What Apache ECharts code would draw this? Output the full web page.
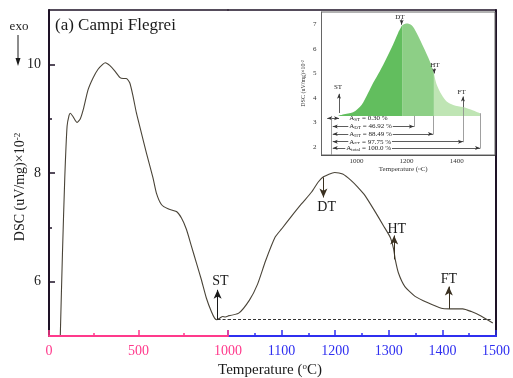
<!DOCTYPE html>
<html>
<head>
<meta charset="utf-8">
<script src="https://cdn.jsdelivr.net/npm/echarts@6/dist/echarts.min.js"></script>
<style>
  html, body { margin: 0; padding: 0; background: #fff; }
  #chart { width: 513px; height: 378px; }
</style>
</head>
<body>
<div id="chart"></div>
<script>
// ---- DSC trace, 0–1000 °C (compressed pink scale) ----
const lowTemp = [63, 75, 88, 101, 112, 119, 134, 157, 175, 194, 218, 246, 274, 300, 315, 339, 367, 395, 415, 432,
  451, 469, 488, 516, 544, 581, 600, 628, 665, 712, 740, 768, 796, 823, 851, 879, 907, 925, 938, 955, 970, 985, 1000];
const lowDsc = [5.0, 6.5, 7.9, 8.86, 9.06, 9.10, 9.04, 8.93, 9.0, 9.2, 9.53, 9.75, 9.91, 10.0, 10.03, 9.98, 9.88, 9.76, 9.74, 9.74,
  9.66, 9.42, 9.11, 8.74, 8.37, 7.91, 7.63, 7.42, 7.34, 7.29, 7.17, 6.96, 6.65, 6.35, 6.04, 5.70, 5.45, 5.33, 5.30, 5.33, 5.36, 5.35, 5.37];

// ---- DSC trace, 1000–1500 °C (expanded blue scale) ----
const highTemp = [1000, 1020, 1040, 1055, 1070, 1088, 1100, 1119, 1137, 1156, 1168, 1178, 1199, 1214, 1230, 1242, 1256,
  1275, 1290, 1303, 1309, 1312, 1318, 1330, 1349, 1373, 1398, 1414, 1438, 1454, 1472, 1494];
const highDsc = [5.37, 5.42, 5.66, 5.95, 6.38, 6.82, 6.97, 7.21, 7.43, 7.65, 7.83, 7.93, 8.01, 7.98, 7.86, 7.74, 7.58,
  7.28, 7.03, 6.81, 6.6, 6.41, 6.16, 5.91, 5.73, 5.61, 5.51, 5.50, 5.50, 5.45, 5.37, 5.24];

// ---- characteristic temperatures (ST, DT, HT, FT) ----
const charNames = ['ST', 'DT', 'HT', 'FT'];
const charTemps = [942, 1178, 1310, 1412];
const charCurve = [5.30, 7.92, 6.41, 5.50];
const charTip = [5.85, 7.55, 6.85, 5.91];
const charLabelTemp = [958, 1184, 1315, 1412];
const charLabelDsc = [6.0, 7.37, 6.97, 6.04];

// melting baseline
const baselineDsc = 5.30;
const baselineFrom = 942;
const baselineTo = 1490;

// ---- inset: melting peak split into three areas ----
const insetTempA = [926, 945, 986, 1020, 1046, 1066, 1093, 1120, 1146, 1166, 1182];
const insetDscA = [3.27, 3.33, 3.42, 3.72, 4.2, 4.61, 5.09, 5.63, 6.18, 6.65, 6.96];
const insetTempB = [1182, 1200, 1220, 1240, 1266, 1293, 1309];
const insetDscB = [6.96, 7.03, 6.96, 6.65, 6.1, 5.49, 5.02];
const insetTempC = [1309, 1320, 1340, 1360, 1386, 1426, 1466, 1493];
const insetDscC = [5.02, 4.55, 4.13, 3.86, 3.72, 3.63, 3.49, 3.38];
const insetBase = 3.27;

// inset markers
const insetMarkTemps = [930, 1180, 1310, 1425];
const insetMarkFrom = [3.39, 7.20, 5.20, 3.63];
const insetMarkTo = [4.17, 6.98, 5.00, 4.06];
const insetMarkLabelTemp = [926, 1173, 1313, 1420];
const insetMarkLabelDsc = [4.45, 7.28, 5.33, 4.22];

// cumulative melted areas
const areaKeys = ['ST', 'DT', 'HT', 'FT', 'total'];
const areaPercents = ['0.30', '46.92', '88.49', '97.75', '100.0'];
const areaRowDsc = [3.18, 2.84, 2.53, 2.22, 1.96];
const areaStartTemp = [883, 905, 905, 905, 905];
const areaEndTemp = [930, 1229, 1305, 1425, 1493];
const areaDropFrom = [null, 3.27, 3.27, 3.63, 3.38];
const areaTextTemp = [965, 965, 965, 965, 953];
const insetLeftRule = 897;

const pink = '#ff3a8c';
const blue = '#2f2ff0';
const ink = '#1a1a1a';
const frame = '#1e1226';
const serif = '"Liberation Serif", "Times New Roman", serif';
const plain = v => String(v);

const zip = (a, b) => a.map((v, i) => [v, b[i]]);

function arrowLines(idx) {
  return idx.map(i => [
    { coord: [charTemps[i], charCurve[i]], symbol: 'none' },
    { coord: [charTemps[i], charTip[i]], symbol: 'arrow' }
  ]);
}
function charLabels(idx) {
  return idx.map(i => ({ name: charNames[i], coord: [charLabelTemp[i], charLabelDsc[i]] }));
}
const mainLabelStyle = { show: true, position: 'inside', color: ink, fontFamily: serif, fontSize: 14, formatter: p => p.name };

const chart = echarts.init(document.getElementById('chart'), null, { renderer: 'canvas' });

const insetLines = [];
insetMarkTemps.forEach((t, i) => {
  insetLines.push([
    { coord: [t, insetMarkFrom[i]], symbol: 'none' },
    { coord: [t, insetMarkTo[i]], symbol: 'arrow' }
  ]);
});
areaKeys.forEach((k, i) => {
  insetLines.push([
    { coord: [areaStartTemp[i], areaRowDsc[i]], symbol: 'arrow' },
    { coord: [areaEndTemp[i], areaRowDsc[i]], symbol: 'arrow' }
  ]);
  if (areaDropFrom[i] !== null) {
    insetLines.push([
      { coord: [areaEndTemp[i], areaDropFrom[i]], symbol: 'none', lineStyle: { color: '#888', width: 0.8 } },
      { coord: [areaEndTemp[i], areaRowDsc[i] - 0.02], symbol: 'none' }
    ]);
  }
});
insetLines.push([
  { coord: [insetLeftRule, 3.27], symbol: 'none', lineStyle: { color: '#888', width: 0.8 } },
  { coord: [insetLeftRule, 1.68], symbol: 'none' }
]);

const insetTexts = [];
insetMarkTemps.forEach((t, i) => {
  insetTexts.push({ name: charNames[i], coord: [insetMarkLabelTemp[i], insetMarkLabelDsc[i]],
    label: { position: 'inside' } });
});
areaKeys.forEach((k, i) => {
  insetTexts.push({ name: 'A{s|' + k + '} = ' + areaPercents[i] + ' %', coord: [areaTextTemp[i], areaRowDsc[i]],
    label: { position: 'right', distance: 0, backgroundColor: i === 0 ? 'transparent' : '#fff', padding: [0, 1] } });
});

const insetArea = (data, color, extra) => Object.assign({
  type: 'line', xAxisIndex: 4, yAxisIndex: 3, data: data, symbol: 'none', smooth: 0.3,
  lineStyle: { width: 0 }, areaStyle: { color: color, opacity: 1, origin: insetBase }, z: 4, silent: true
}, extra || {});

const option = {
  animation: false,
  backgroundColor: '#fff',
  title: {
    text: '(a) Campi Flegrei', left: 55, top: 17, padding: 0,
    textStyle: { fontFamily: serif, fontSize: 17, fontWeight: 'normal', color: ink }
  },
  grid: [
    { left: 49, top: 10, width: 179, height: 326 },
    { left: 228, top: 10, width: 269.5, height: 326 },
    { left: 321.5, top: 12, width: 173.5, height: 143, show: true, backgroundColor: '#fff', borderColor: '#666', borderWidth: 1, z: 3 }
  ],
  xAxis: [
    { gridIndex: 0, type: 'value', position: 'bottom', min: 0, max: 1000, interval: 500, z: 5,
      axisLine: { onZero: false, lineStyle: { color: pink, width: 2 } },
      axisTick: { inside: true, length: 6, lineStyle: { color: pink, width: 1.5 } },
      minorTick: { show: true, splitNumber: 2, length: 3, lineStyle: { color: pink, width: 1.5 } },
      axisLabel: { color: pink, fontFamily: serif, fontSize: 14, margin: 8, formatter: plain },
      splitLine: { show: false } },
    { gridIndex: 1, type: 'value', position: 'bottom', min: 1000, max: 1500, interval: 100,
      axisLine: { onZero: false, lineStyle: { color: blue, width: 2 } },
      axisTick: { inside: true, length: 6, lineStyle: { color: blue, width: 1.5 } },
      minorTick: { show: true, splitNumber: 2, length: 3, lineStyle: { color: blue, width: 1.5 } },
      axisLabel: { color: blue, fontFamily: serif, fontSize: 14, margin: 8, showMinLabel: false, formatter: plain },
      splitLine: { show: false } },
    { gridIndex: 0, type: 'value', position: 'top', min: 0, max: 1000,
      axisLine: { onZero: false, lineStyle: { color: frame, width: 1.5 } },
      axisTick: { show: false }, axisLabel: { show: false }, splitLine: { show: false } },
    { gridIndex: 1, type: 'value', position: 'top', min: 1000, max: 1500,
      axisLine: { onZero: false, lineStyle: { color: frame, width: 1.5 } },
      axisTick: { show: false }, axisLabel: { show: false }, splitLine: { show: false } },
    { gridIndex: 2, type: 'value', position: 'bottom', min: 860, max: 1553,
      name: 'Temperature ({s|o}C)', nameLocation: 'middle', nameGap: 10,
      nameTextStyle: { fontFamily: serif, fontSize: 7, color: '#333', padding: [0, 10, 0, 0], rich: { s: { fontSize: 5, verticalAlign: 'top', fontFamily: serif } } },
      axisLine: { onZero: false, lineStyle: { color: '#444', width: 1 } },
      axisTick: { inside: true, length: 3, customValues: [1000, 1200, 1400], lineStyle: { color: '#444' } },
      axisLabel: { customValues: [1000, 1200, 1400], fontFamily: serif, fontSize: 7, color: '#333', margin: 3, formatter: plain },
      splitLine: { show: false } }
  ],
  yAxis: [
    { gridIndex: 0, type: 'value', position: 'left', min: 5, max: 11,
      axisLine: { show: true, onZero: false, lineStyle: { color: frame, width: 2 } },
      axisTick: { inside: true, length: 6, customValues: [6, 8, 10], lineStyle: { color: frame, width: 1.5 } },
      axisLabel: { customValues: [6, 8, 10], fontFamily: serif, fontSize: 14, color: ink, margin: 8 },
      splitLine: { show: false } },
    { gridIndex: 0, type: 'value', position: 'left', min: 5, max: 11,
      axisLine: { show: false, onZero: false },
      axisTick: { inside: true, length: 3, customValues: [7, 9], lineStyle: { color: frame, width: 1.5 } },
      axisLabel: { show: false }, splitLine: { show: false } },
    { gridIndex: 1, type: 'value', position: 'right', min: 5, max: 11,
      axisLine: { show: true, onZero: false, lineStyle: { color: frame, width: 2 } },
      axisTick: { show: false }, axisLabel: { show: false }, splitLine: { show: false } },
    { gridIndex: 2, type: 'value', position: 'left', min: 1.68, max: 7.5,
      name: 'DSC (uV/mg)×10{s|-2}', nameLocation: 'middle', nameGap: 15, nameRotate: 90,
      nameTextStyle: { fontFamily: serif, fontSize: 6, color: '#333', rich: { s: { fontSize: 4, verticalAlign: 'top', fontFamily: serif } } },
      axisLine: { show: true, onZero: false, lineStyle: { color: '#444', width: 1 } },
      axisTick: { inside: true, length: 3, customValues: [2, 3, 4, 5, 6, 7], lineStyle: { color: '#444' } },
      axisLabel: { customValues: [2, 3, 4, 5, 6, 7], fontFamily: serif, fontSize: 7, color: '#333', margin: 5 },
      splitLine: { show: false } }
  ],
  series: [
    { type: 'line', xAxisIndex: 0, yAxisIndex: 0, data: zip(lowTemp, lowDsc), symbol: 'none', smooth: 0.2,
      lineStyle: { color: '#4a4438', width: 1.1 }, z: 3, silent: true,
      markLine: { silent: true, symbolSize: [6, 9], label: { show: false },
        lineStyle: { color: ink, width: 1, type: 'solid' },
        data: arrowLines([0]).concat([[
          { coord: [baselineFrom, baselineDsc], symbol: 'none', lineStyle: { type: [3, 2], color: '#333' } },
          { coord: [1000, baselineDsc], symbol: 'none' }
        ]]) },
      markPoint: { silent: true, symbol: 'circle', symbolSize: 1, itemStyle: { color: 'rgba(0,0,0,0)' },
        label: mainLabelStyle, data: charLabels([0]) } },
    { type: 'line', xAxisIndex: 1, yAxisIndex: 2, data: zip(highTemp, highDsc), symbol: 'none', smooth: 0.2,
      lineStyle: { color: '#4a4438', width: 1.1 }, z: 3, silent: true,
      markLine: { silent: true, symbolSize: [6, 9], label: { show: false },
        lineStyle: { color: '#3a3020', width: 1, type: 'solid' },
        data: arrowLines([1, 2, 3]).concat([[
          { coord: [1000, baselineDsc], symbol: 'none', lineStyle: { type: [3, 2], color: '#333' } },
          { coord: [baselineTo, baselineDsc], symbol: 'none' }
        ]]) },
      markPoint: { silent: true, symbol: 'circle', symbolSize: 1, itemStyle: { color: 'rgba(0,0,0,0)' },
        label: mainLabelStyle, data: charLabels([1, 2, 3]) } },
    insetArea(zip(insetTempA, insetDscA), '#62be5e'),
    insetArea(zip(insetTempB, insetDscB), '#8dcf86'),
    insetArea(zip(insetTempC, insetDscC), '#bfe5b4', {
      markLine: { silent: true, symbolSize: [3, 5], label: { show: false },
        lineStyle: { color: '#333', width: 0.8, type: 'solid' }, data: insetLines },
      markPoint: { silent: true, symbol: 'circle', symbolSize: 1, itemStyle: { color: 'rgba(0,0,0,0)' },
        label: { show: true, color: '#222', fontFamily: serif, fontSize: 7, formatter: p => p.name,
          rich: { s: { fontSize: 5, fontFamily: serif, color: '#222', verticalAlign: 'bottom', padding: [3, 0, 0, 0] } } },
        data: insetTexts }
    })
  ],
  graphic: [
    { type: 'text', x: 20, y: 187, rotation: Math.PI / 2, silent: true,
      style: { text: 'DSC (uV/mg)×10{s|-2}', fill: ink, font: '14px ' + serif, align: 'center', verticalAlign: 'middle',
        rich: { s: { fontSize: 9, fontFamily: serif, verticalAlign: 'top', fill: ink } } } },
    { type: 'text', x: 270, y: 370, silent: true,
      style: { text: 'Temperature ({s|o}C)', fill: ink, font: '15px ' + serif, align: 'center', verticalAlign: 'middle',
        rich: { s: { fontSize: 9, fontFamily: serif, verticalAlign: 'top', fill: ink } } } },
    { type: 'text', x: 19, y: 27, silent: true,
      style: { text: 'exo', fill: ink, font: '13px ' + serif, align: 'center', verticalAlign: 'middle' } },
    { type: 'line', silent: true, shape: { x1: 18, y1: 35, x2: 18, y2: 60 }, style: { stroke: ink, lineWidth: 1 } },
    { type: 'polygon', silent: true, shape: { points: [[15.5, 58], [20.5, 58], [18, 66]] }, style: { fill: ink } }
  ]
};
chart.setOption(option);
</script>
</body>
</html>
